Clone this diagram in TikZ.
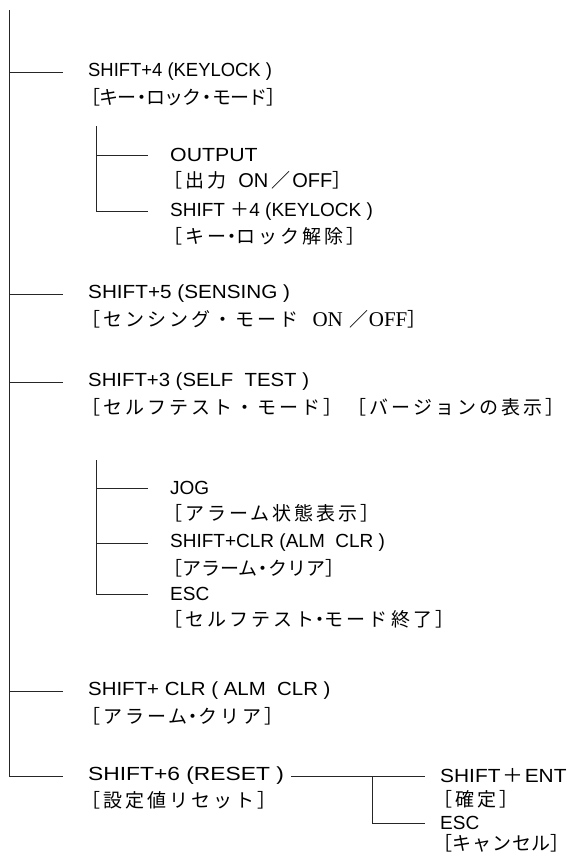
\documentclass[tikz,border=0pt]{standalone}
\usepackage{graphicx}
\usepackage{fontspec}
\setmainfont{Liberation Sans}
\newfontfamily\jpf[LetterSpace=16]{Noto Sans CJK JP}
\newfontfamily\jpn[LetterSpace=-5]{Noto Sans CJK JP}
\newfontfamily\jpm[LetterSpace=0]{Noto Sans CJK JP}
\newfontfamily\jpk[LetterSpace=4]{Noto Sans CJK JP}
\newfontfamily\serf{Liberation Serif}
\newcommand{\md}{\makebox[0.55em][c]{・}}
\newcommand{\sx}[2]{\scalebox{#1}[1]{#2}}
\begin{document}
\begin{tikzpicture}[x=1pt,y=-1pt,
  ln/.style={line width=0.9pt, draw=black!85},
  en/.style={anchor=west, inner sep=0pt, font=\fontsize{19}{22}\selectfont},
  jp/.style={anchor=west, inner sep=0pt, font=\fontsize{19}{22}\jpf}]
\useasboundingbox[fill=white] (0,0) rectangle (571,854);
\node[en] (e1) at (88,72) {\sx{0.97}{SHIFT+4 (KEYLOCK )}};
\node[jp,font=\fontsize{19}{22}\jpn] (j1) at (81,97) {［キー\md ロック\md モード］};
\node[en] (e2) at (170,155) {\sx{1.12}{OUTPUT}};
\node[jp] (j2) at (163,180) {［出力\hspace{12pt}{\fontsize{20}{22}\rmfamily ON}\hspace{3pt}／\hspace{2pt}{\fontsize{20}{22}\rmfamily OFF}］};
\node[en] (e3) at (170,211) {SHIFT {\jpm ＋}4 (KEYLOCK )};
\node[jp] (j3) at (163,236) {［キー\md ロック解除］};
\node[en] (e4) at (88,294) {\sx{1.09}{SHIFT+5 (SENSING )}};
\node[jp] (j4) at (81,319) {［センシング・モード\hspace{14pt}{\fontsize{21}{22}\serf ON}\hspace{7pt}／{\fontsize{21}{22}\serf OFF}］};
\node[en] (e5) at (88,382) {\sx{1.07}{SHIFT+3 (SELF\ \ TEST )}};
\node[jp] (j5) at (81,407) {［セルフテスト・モード］\hspace{5pt}［バージョンの表示］};
\node[en] (e6) at (170,488) {JOG};
\node[jp] (j6) at (163,513) {［アラーム状態表示］};
\node[en] (e7) at (170,543) {SHIFT+CLR (ALM\ \ CLR )};
\node[jp,font=\fontsize{19}{22}\jpm] (j7) at (163,568) {［アラーム\md クリア］};
\node[en] (e8) at (170,594) {ESC};
\node[jp] (j8) at (163,619) {［セルフテスト\md モード終了］};
\node[en] (e9) at (88,691) {\sx{1.075}{SHIFT+ CLR ( ALM\ \ CLR )}};
\node[jp] (j9) at (81,716) {［アラーム\md クリア］};
\node[en] (e10) at (88,776) {\sx{1.2}{SHIFT+6 (RESET )}};
\node[jp] (j10) at (81,800) {［設定値リセット］};
\node[en] (e11) at (440,776) {\sx{1.1}{SHIFT\hspace{2pt}{\jpm ＋}\hspace{1pt}ENT}};
\node[jp] (j11) at (433,799) {［確定］};
\node[en] (e12) at (440,823) {ESC};
\node[jp,font=\fontsize{19}{22}\jpk] (j12) at (433,843) {［キャンセル\makebox[0.5em][l]{］}};
\coordinate (t0) at (9,10);
\coordinate (s1) at (96,126);
\coordinate (s2) at (96,460);
\coordinate (s3) at (372,776);
\draw[ln] (t0) -- (t0 |- e10);
\foreach \n in {e1,e4,e5,e9,e10} \draw[ln] (t0 |- \n) -- ([xshift=-25pt]\n.west);
\draw[ln] (s1) -- (s1 |- e3);
\foreach \n in {e2,e3} \draw[ln] (s1 |- \n) -- ([xshift=-22pt]\n.west);
\draw[ln] (s2) -- (s2 |- e8);
\foreach \n in {e6,e7,e8} \draw[ln] (s2 |- \n) -- ([xshift=-22pt]\n.west);
\draw[ln] ([xshift=7pt]e10.east) -- ([xshift=-15pt]e11.west);
\draw[ln] (s3) -- (s3 |- e12) -- ([xshift=-15pt]e12.west);
\end{tikzpicture}
\end{document}
